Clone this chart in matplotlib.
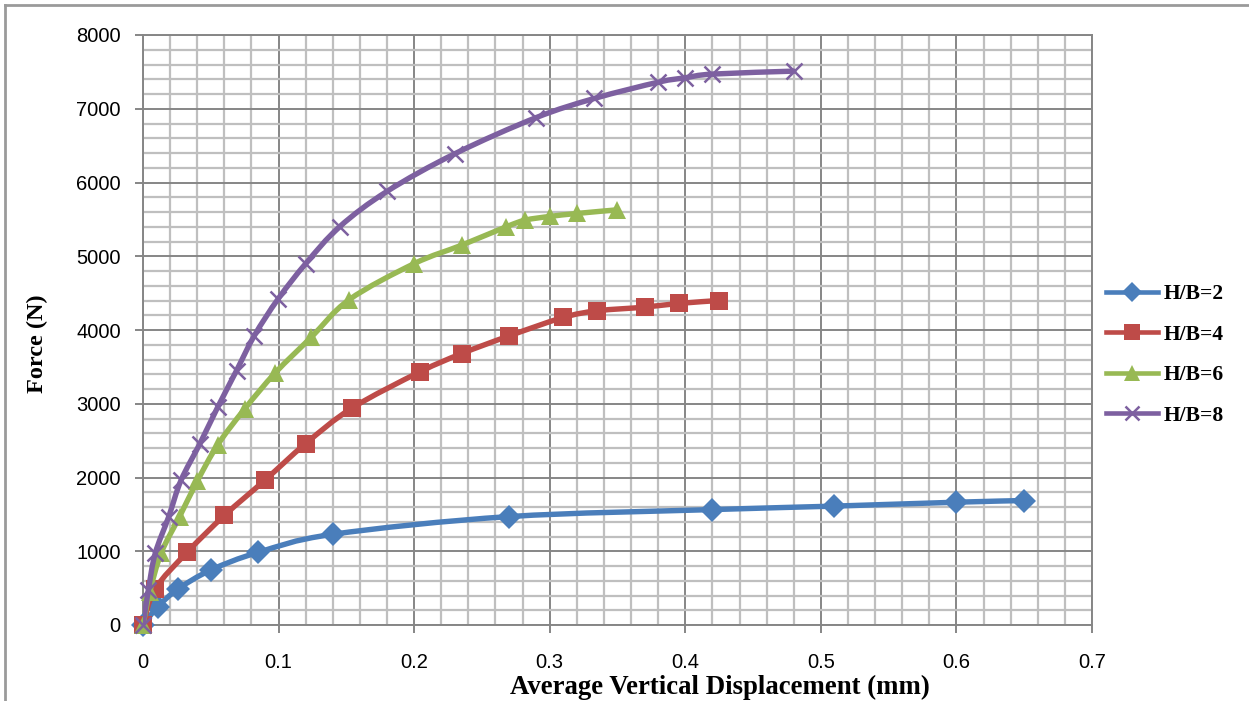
import numpy as np
import matplotlib
matplotlib.use("Agg")
import matplotlib.pyplot as plt
from matplotlib.path import Path
from matplotlib.patches import PathPatch
from matplotlib.lines import Line2D

# ---------------- data ----------------
x_hb2 = [0, 0.011, 0.026, 0.05, 0.085, 0.14, 0.27, 0.42, 0.51, 0.60, 0.65]
y_hb2 = [0, 250, 490, 745, 985, 1230, 1470, 1565, 1612, 1665, 1688]

x_hb4 = [0, 0.009, 0.0325, 0.06, 0.09, 0.12, 0.154, 0.204, 0.235, 0.27, 0.31, 0.335, 0.37, 0.395, 0.425]
y_hb4 = [0, 490, 985, 1485, 1965, 2460, 2940, 3430, 3680, 3920, 4170, 4260, 4310, 4360, 4400]

x_hb6 = [0, 0.005, 0.0135, 0.027, 0.04, 0.055, 0.075, 0.0976, 0.124, 0.152, 0.2, 0.235, 0.268, 0.282, 0.30, 0.32, 0.35]
y_hb6 = [0, 450, 980, 1470, 1950, 2440, 2930, 3420, 3900, 4410, 4900, 5150, 5400, 5490, 5540, 5580, 5630]

x_hb8 = [0, 0.004, 0.009, 0.019, 0.028, 0.042, 0.055, 0.069, 0.082, 0.0996, 0.12, 0.145, 0.18, 0.23, 0.29, 0.333, 0.38, 0.40, 0.42, 0.48]
y_hb8 = [0, 480, 970, 1470, 1960, 2460, 2950, 3450, 3920, 4420, 4900, 5400, 5880, 6390, 6880, 7140, 7360, 7420, 7470, 7510]

series_labels = ["H/B=2", "H/B=4", "H/B=6", "H/B=8"]
x_tick_labels = ["0", "0.1", "0.2", "0.3", "0.4", "0.5", "0.6", "0.7"]
y_tick_labels = ["0", "1000", "2000", "3000", "4000", "5000", "6000", "7000", "8000"]
x_title = "Average Vertical Displacement (mm)"
y_title = "Force (N)"

# ---------------- style ----------------
colors = ["#4A7EBB", "#BE4B48", "#98B954", "#7D60A0"]
markers = ["D", "s", "^", "x"]
msizes = [12, 13.5, 13.5, 12]

W, H = 1249, 701
fig = plt.figure(figsize=(W / 100, H / 100), dpi=100)
ax = fig.add_axes([143 / W, 1 - 625 / H, (1092 - 143) / W, (625 - 35) / H])

ax.set_xlim(0, 0.7)
ax.set_ylim(0, 8000)
ax.set_xticks(np.arange(len(x_tick_labels)) * 0.1)
ax.set_xticklabels(x_tick_labels)
ax.set_yticks(np.arange(len(y_tick_labels)) * 1000)
ax.set_yticklabels(y_tick_labels)
ax.set_xticks(np.arange(0, 0.7001, 0.02), minor=True)
ax.set_yticks(np.arange(0, 8001, 200), minor=True)

ax.set_axisbelow(True)
ax.grid(which="minor", color="#BFBFBF", lw=1.6)
ax.grid(which="major", color="#868686", lw=1.4)
for s in ax.spines.values():
    s.set_color("#868686")
    s.set_linewidth(1.4)

ax.tick_params(which="minor", length=0)
ax.tick_params(which="major", length=6, color="#868686", width=1.4,
               labelsize=14.5, labelcolor="black")
ax.tick_params(axis="x", which="major", pad=14)
ax.tick_params(axis="y", which="major", pad=10)
for lab in ax.get_xticklabels() + ax.get_yticklabels():
    lab.set_fontfamily("Liberation Sans")


def smooth_path(xs, ys):
    pts = np.column_stack([xs, ys]).astype(float)
    n = len(pts)
    verts = [pts[0]]
    codes = [Path.MOVETO]
    for i in range(n - 1):
        p0 = pts[i - 1] if i > 0 else pts[i]
        p1 = pts[i]
        p2 = pts[i + 1]
        p3 = pts[i + 2] if i + 2 < n else pts[i + 1]
        c1 = p1 + (p2 - p0) / 6.0
        c2 = p2 - (p3 - p1) / 6.0
        verts += [c1, c2, p2]
        codes += [Path.CURVE4] * 3
    return Path(verts, codes)


all_x = [x_hb2, x_hb4, x_hb6, x_hb8]
all_y = [y_hb2, y_hb4, y_hb6, y_hb8]
handles = []
for i, (xs, ys) in enumerate(zip(all_x, all_y)):
    z = 3 + i
    patch = PathPatch(smooth_path(xs, ys), facecolor="none", edgecolor=colors[i],
                      lw=3.9, capstyle="round", joinstyle="round", zorder=z)
    ax.add_patch(patch)
    if markers[i] == "x":
        ax.plot(xs, ys, ls="none", marker="x", ms=msizes[i], mew=1.8,
                color=colors[i], zorder=z + 0.5, clip_on=False)
    else:
        ax.plot(xs, ys, ls="none", marker=markers[i], ms=msizes[i], mew=0,
                color=colors[i], zorder=z + 0.5, clip_on=False)
    h = Line2D([], [], color=colors[i], lw=3.3, marker=markers[i],
               ms=msizes[i] * 0.85, mew=(1.8 if markers[i] == "x" else 0))
    handles.append(h)

leg = fig.legend(handles, series_labels, loc="center left",
                 bbox_to_anchor=(1106 / W, 1 - 355 / H), frameon=False,
                 prop={"family": "Liberation Serif", "weight": "bold", "size": 15.5},
                 handlelength=2.4, handletextpad=0.3, labelspacing=0.95,
                 borderpad=0, borderaxespad=0)

fig.text(720 / W, 1 - 687 / H, x_title, ha="center", va="center",
         fontfamily="Liberation Serif", fontweight="bold", fontsize=19.3)
fig.text(37 / W, 1 - 344 / H, y_title, ha="center", va="center", rotation=90,
         fontfamily="Liberation Serif", fontweight="bold", fontsize=17.5)

# outer chart border (left and top visible)
fig.add_artist(Line2D([5 / W, 5 / W], [0, 1 - 5 / H], transform=fig.transFigure,
                      color="#9A9A9A", lw=2))
fig.add_artist(Line2D([5 / W, 1], [1 - 5 / H, 1 - 5 / H], transform=fig.transFigure,
                      color="#9A9A9A", lw=2))

fig.savefig("out.png", dpi=100)
